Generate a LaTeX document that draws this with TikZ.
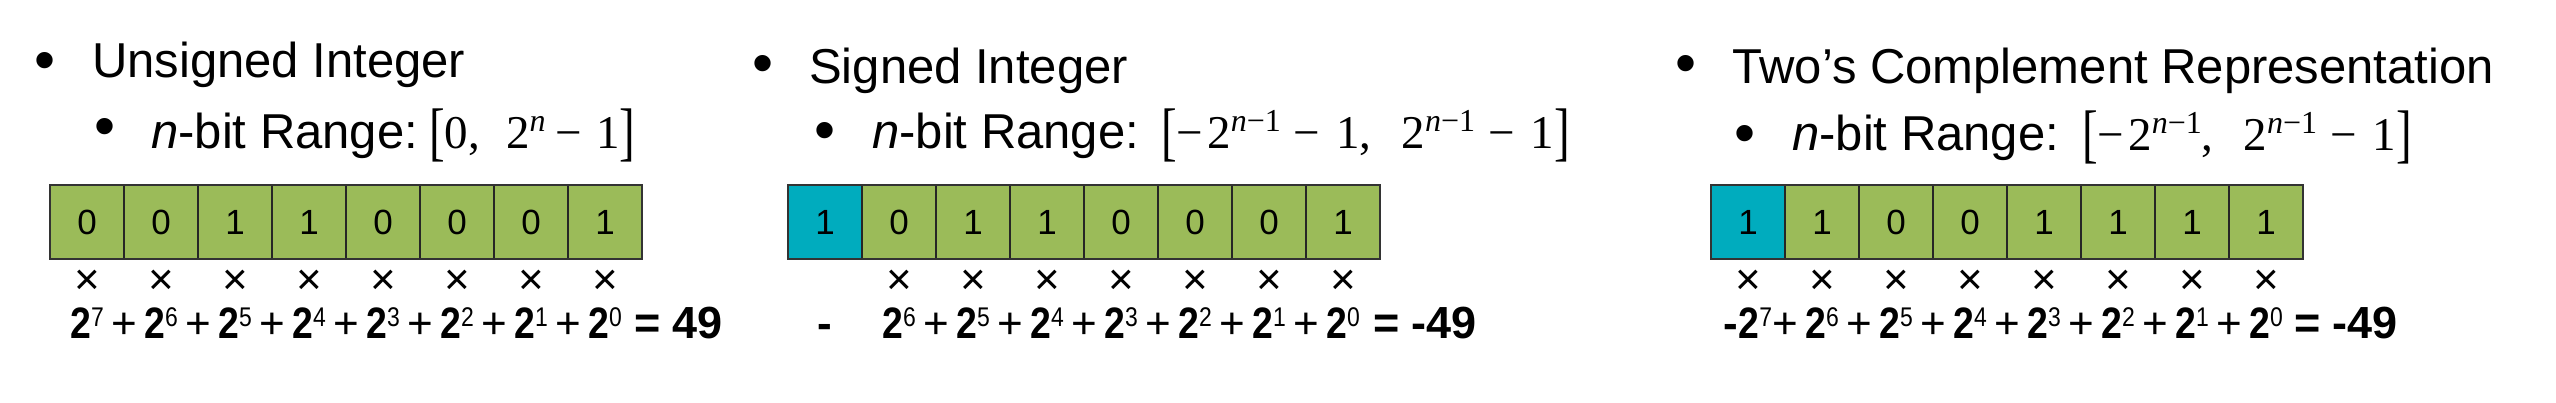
\documentclass[tikz,border=0pt]{standalone}
\usepackage{fontspec}
\setmainfont{Liberation Sans}
\newfontfamily\timesfont{Liberation Serif}
\usetikzlibrary{positioning}
\definecolor{bitgreen}{RGB}{155,187,89}
\definecolor{bitteal}{RGB}{0,172,190}
\tikzstyle{bitcell} = [draw=black!85, line width=1.2pt, fill=bitgreen, minimum width=74pt, minimum height=74pt, inner sep=0pt, outer sep=0pt, font=\fontsize{35}{35}\selectfont]
\tikzstyle{signcell} = [bitcell, fill=bitteal]
\tikzstyle{timesmark} = [inner sep=0pt, font=\fontsize{44}{44}\selectfont]
\tikzstyle{powterm} = [anchor=base, inner sep=0pt, font=\fontsize{44}{44}\selectfont]
\tikzstyle{plusmark} = [anchor=base, inner sep=0pt, font=\fontsize{44}{44}\selectfont]
\tikzstyle{resulttext} = [anchor=base west, inner sep=0pt, font=\bfseries\fontsize{45}{45}\selectfont]
\tikzstyle{headline} = [anchor=base west, inner sep=0pt, font=\fontsize{49}{49}\selectfont]
\tikzstyle{subline} = [anchor=base west, inner sep=0pt, font=\fontsize{49}{49}\selectfont]
\tikzstyle{bulletmark} = [anchor=base, inner sep=0pt, font=\fontsize{60}{60}\selectfont]
\tikzstyle{rangemath} = [anchor=base west, inner sep=0pt, font=\timesfont\fontsize{47}{47}\selectfont]

\newcommand{\pw}[1]{\scalebox{0.85}[1]{\textbf{2}\raisebox{12pt}{\fontsize{27}{27}\selectfont #1}}}
\newcommand{\rsup}[1]{\raisebox{17pt}{\fontsize{32}{32}\selectfont #1}}
\newcommand{\lbrk}{\raisebox{-5pt}{\scalebox{1}[1.37]{[}}}
\newcommand{\rbrk}{\raisebox{-5pt}{\scalebox{1}[1.37]{]}}}
\newcommand{\bmin}{\hspace{13pt}−\hspace{16pt}}
\newcommand{\gapc}{,\hspace{30pt}}

\begin{document}
\begin{tikzpicture}[x=1pt, y=-1pt]
\useasboundingbox (0,0) rectangle (2556,402);

% Unsigned integer
\node[bulletmark] (uBul) at (45,80) {•};
\node[headline] (uHead) at (92,77) {Unsigned Integer};
\node[bulletmark] (uSubBul) at (105,146) {•};
\node[subline] (uSub) at (151,148) {\textit{n}-bit Range:};
\node[rangemath] (uRange) at (429,148) {\lbrk 0,\hspace{26pt}2\rsup{\textit{n}}\hspace{10pt}−\hspace{14pt}1\rbrk};
\foreach \b [count=\i] in {0,0,1,1,0,0,0,1}
  \node[bitcell] (u\i) at ({87+74*(\i-1)},222) {\b};
\draw[line width=2pt, black!80] (u1.north west) rectangle (u8.south east);
\foreach \i in {1,...,8}
  \node[timesmark] (ux\i) at ({87+74*(\i-1)},282) {×};
\foreach \k [count=\i] in {7,...,0}
  \node[powterm] (up\i) at ({87+74*(\i-1)},338) {\pw{\k}};
\foreach \i in {1,...,7}
  \node[plusmark] (uplus\i) at ({50+74*\i},338) {+};
\node[resulttext] (uRes) at (634,338) {= 49};

% Signed integer
\node[bulletmark] (sBul) at (763,83) {•};
\node[headline] (sHead) at (809,83) {Signed Integer};
\node[bulletmark] (sSubBul) at (825,150) {•};
\node[subline] (sSub) at (872,148) {\textit{n}-bit Range:};
\node[rangemath] (sRange) at (1161,148) {\lbrk −\hspace{4pt}2\rsup{\textit{n}−1}\bmin 1\gapc 2\rsup{\textit{n}−1}\bmin 1\rbrk};
\node[signcell] (s1) at (825,222) {1};
\foreach \b [count=\i from 2] in {0,1,1,0,0,0,1}
  \node[bitcell] (s\i) at ({825+74*(\i-1)},222) {\b};
\draw[line width=2pt, black!80] (s1.north west) rectangle (s8.south east);
\foreach \i in {2,...,8}
  \node[timesmark] (sx\i) at ({825+74*(\i-1)},282) {×};
\node[powterm] (sMinus) at (825,338) {\textbf{-}};
\foreach \k [count=\i from 2] in {6,...,0}
  \node[powterm] (sp\i) at ({825+74*(\i-1)},338) {\pw{\k}};
\foreach \i in {2,...,7}
  \node[plusmark] (splus\i) at ({788+74*\i},338) {+};
\node[resulttext] (sRes) at (1373,338) {= -49};

% Two's complement
\node[bulletmark] (tBul) at (1686,83) {•};
\node[headline] (tHead) at (1732,83) {Two’s Complement Representation};
\node[bulletmark] (tSubBul) at (1745,153) {•};
\node[subline] (tSub) at (1792,150) {\textit{n}-bit Range:};
\node[rangemath] (tRange) at (2082,150) {\lbrk −\hspace{4pt}2\rsup{\textit{n}−1}\gapc 2\rsup{\textit{n}−1}\bmin 1\rbrk};
\node[signcell] (t1) at (1748,222) {1};
\foreach \b [count=\i from 2] in {1,0,0,1,1,1,1}
  \node[bitcell] (t\i) at ({1748+74*(\i-1)},222) {\b};
\draw[line width=2pt, black!80] (t1.north west) rectangle (t8.south east);
\foreach \i in {1,...,8}
  \node[timesmark] (tx\i) at ({1748+74*(\i-1)},282) {×};
\node[powterm] (tp1) at (1748,338) {\textbf{-}\pw{7}};
\foreach \k [count=\i from 2] in {6,...,0}
  \node[powterm] (tp\i) at ({1748+74*(\i-1)},338) {\pw{\k}};
\foreach \i in {1,...,7}
  \node[plusmark] (tplus\i) at ({1711+74*\i},338) {+};
\node[resulttext] (tRes) at (2294,338) {= -49};
\end{tikzpicture}
\end{document}
